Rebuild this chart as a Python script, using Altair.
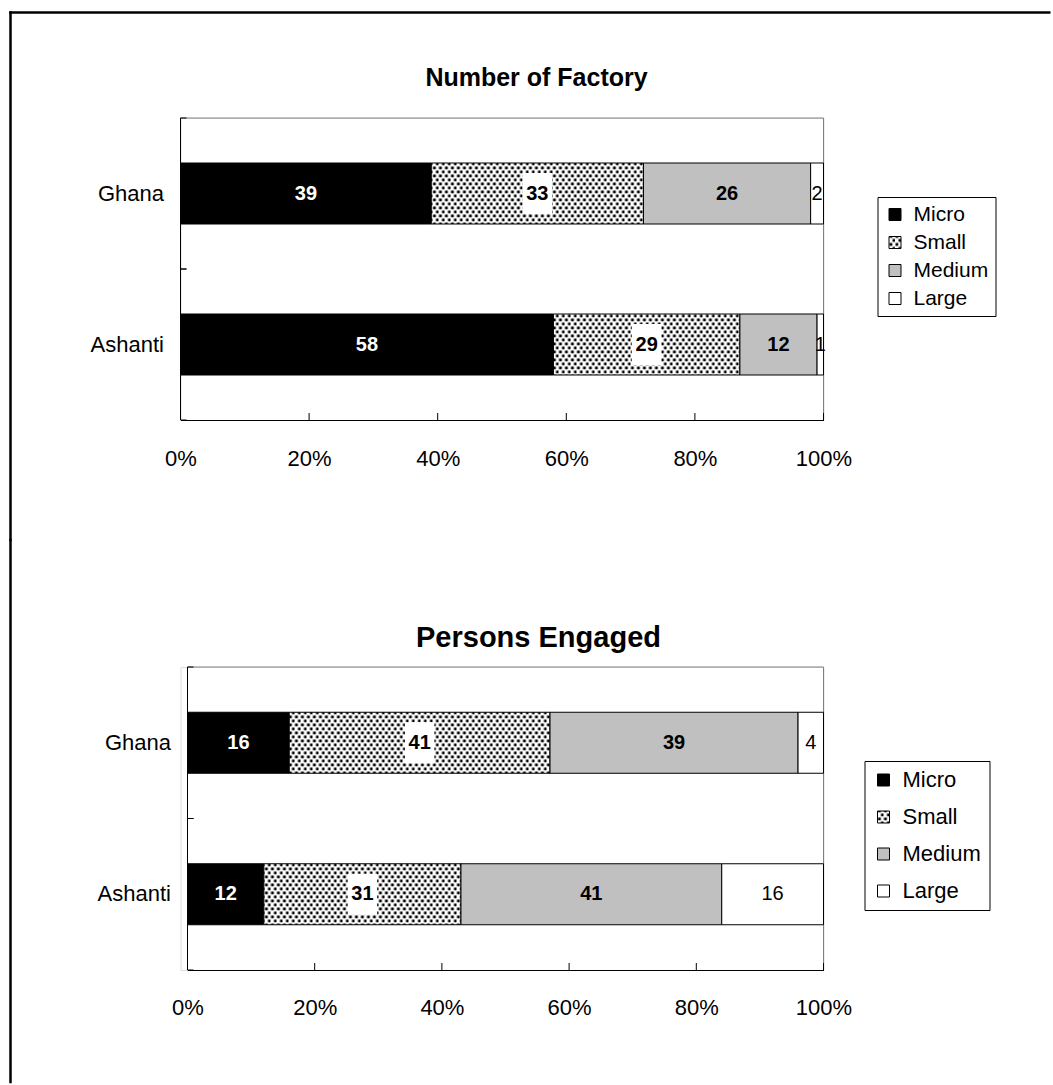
import altair as alt
import pandas as pd
import altair.utils.html as alt_html

# ---- data -------------------------------------------------------------
regions = ["Ghana", "Ashanti"]
size_classes = ["Micro", "Small", "Medium", "Large"]

factory_ghana = [39, 33, 26, 2]
factory_ashanti = [58, 29, 12, 1]

persons_ghana = [16, 41, 39, 4]
persons_ashanti = [12, 31, 41, 16]

percent_ticks = [0, 20, 40, 60, 80, 100]

# ---- styles -----------------------------------------------------------
FONT = "Liberation Sans"
class_fills = ["#000000", "url(#dots)", "#c0c0c0", "#ffffff"]

# dotted fill used for the "Small" class
PATTERN_DEFS = (
    '<svg width="0" height="0" style="position:absolute;left:0;top:0">'
    '<defs><pattern id="dots" x="0" y="0" width="6" height="8" '
    'patternUnits="userSpaceOnUse">'
    '<rect width="6" height="8" fill="#ffffff"/>'
    '<rect x="0.5" y="0.5" width="2.8" height="2.8" fill="#000000"/>'
    '<rect x="3.5" y="4.5" width="2.8" height="2.8" fill="#000000"/>'
    "</pattern></defs></svg>"
)


def _with_pattern(template):
    base_render = template.render

    def render(*args, **kwargs):
        page = base_render(*args, **kwargs)
        if "<body>" in page:
            return page.replace("<body>", "<body>\n" + PATTERN_DEFS, 1)
        return PATTERN_DEFS + page

    template.render = render


for _tpl in alt_html.TEMPLATES.values():
    _with_pattern(_tpl)


def shares(ghana, ashanti):
    rows = []
    for region, values in zip(regions, [ghana, ashanti]):
        for order, (cls, v) in enumerate(zip(size_classes, values)):
            rows.append({"region": region, "class": cls, "order": order, "share": v})
    return pd.DataFrame(rows)


WIDTH = 643
FRAME_X = -170


def panel(df, title, title_size, title_dx, title_offset, plot_left, height,
          legend_x, legend_y, row_padding, legend_font, legend_pad, x_label_pad,
          frame_top, frame_bottom, draw_top_line):
    base = alt.Chart(df).transform_stack(
        stack="share", groupby=["region"], as_=["x0", "x1"],
        sort=[alt.SortField("order", order="ascending")],
    ).transform_calculate(mid="(datum.x0 + datum.x1) / 2")

    x_scale = alt.Scale(domain=[0, 100], range=[plot_left, WIDTH], nice=False, zero=True)
    y_scale = alt.Scale(domain=regions, paddingInner=0, paddingOuter=0)

    bars = base.mark_bar(size=61, stroke="black", strokeWidth=1).encode(
        x=alt.X("x0:Q", scale=x_scale, title=None,
                axis=alt.Axis(values=percent_ticks, labelExpr="datum.value + '%'",
                              ticks=False, tickSize=0, grid=False,
                              domain=True, domainColor="black", domainWidth=1,
                              labelFontSize=22, labelColor="black", labelFont=FONT,
                              labelPadding=x_label_pad, labelFlush=False,
                              labelOverlap=False)),
        x2="x1:Q",
        y=alt.Y("region:N", sort=regions, scale=y_scale, title=None,
                axis=alt.Axis(ticks=False, tickSize=0, grid=False, domain=False,
                              labelFontSize=22, labelColor="black", labelFont=FONT,
                              labelPadding=17 - plot_left)),
        fill=alt.Fill("class:N",
                      scale=alt.Scale(domain=size_classes, range=class_fills),
                      legend=alt.Legend(title=None, orient="none",
                                        legendX=legend_x, legendY=legend_y,
                                        direction="vertical",
                                        strokeColor="black", fillColor="white",
                                        padding=legend_pad, symbolType="square",
                                        symbolSize=144, symbolStrokeColor="black",
                                        symbolStrokeWidth=1, symbolOpacity=1,
                                        labelFontSize=legend_font, labelFont=FONT,
                                        labelColor="black", labelOffset=8,
                                        rowPadding=row_padding)),
    )

    def labels(cls, color, weight):
        return base.transform_filter(alt.datum["class"] == cls).mark_text(
            font=FONT, fontSize=20, fontWeight=weight, color=color,
            align="center", baseline="middle",
        ).encode(
            x=alt.X("mid:Q", scale=x_scale, title=None),
            y=alt.Y("region:N", sort=regions, scale=y_scale, title=None),
            text=alt.Text("share:Q"),
        )

    # white backing box behind the "Small" labels
    label_box = base.transform_filter(alt.datum["class"] == "Small").mark_point(
        shape="M-0.72,-1H0.72V1H-0.72Z", size=1680, filled=True,
        fill="white", opacity=1, strokeWidth=0,
    ).encode(
        x=alt.X("mid:Q", scale=x_scale, title=None),
        y=alt.Y("region:N", sort=regions, scale=y_scale, title=None),
    )

    # plot-area border: grey on the top and right edges, black on the left
    frame_df = pd.DataFrame({"edge": ["frame"]})
    top_border = alt.Chart(frame_df).mark_rule(color="#808080", strokeWidth=1).encode(
        x=alt.X(datum=0, scale=x_scale, title=None), x2=alt.X2(datum=100),
        y=alt.value(0),
    )
    right_border = alt.Chart(frame_df).mark_rule(color="#808080", strokeWidth=1).encode(
        x=alt.X(datum=100, scale=x_scale, title=None),
        y=alt.value(0), y2=alt.value(height),
    )
    left_border = alt.Chart(frame_df).mark_rule(color="black", strokeWidth=1).encode(
        x=alt.X(datum=0, scale=x_scale, title=None),
        y=alt.value(0), y2=alt.value(height),
    )

    # inward tick marks on both axes
    region_df = pd.DataFrame({"region": regions})
    y_ticks_start = alt.Chart(region_df).mark_rule(color="black", strokeWidth=1).encode(
        y=alt.Y("region:N", sort=regions, scale=y_scale, title=None, bandPosition=0),
        x=alt.value(plot_left), x2=alt.value(plot_left + 6),
    )
    y_ticks_end = alt.Chart(region_df).mark_rule(color="black", strokeWidth=1).encode(
        y=alt.Y("region:N", sort=regions, scale=y_scale, title=None, bandPosition=1),
        x=alt.value(plot_left), x2=alt.value(plot_left + 6),
    )
    x_ticks = alt.Chart(pd.DataFrame({"tick": percent_ticks})).mark_rule(
        color="black", strokeWidth=1
    ).encode(
        x=alt.X("tick:Q", scale=x_scale, title=None),
        y=alt.value(height - 7), y2=alt.value(height),
    )

    # page frame (left edge, and top edge on the first panel)
    left_edge = alt.Chart(frame_df).mark_rule(
        color="black", strokeWidth=2.5, strokeCap="square"
    ).encode(
        x=alt.value(FRAME_X), y=alt.value(frame_top), y2=alt.value(frame_bottom),
    )
    layers = [top_border, right_border, bars, label_box,
              labels("Micro", "white", "bold"),
              labels("Small", "black", "bold"),
              labels("Medium", "black", "bold"),
              labels("Large", "black", "normal"),
              left_border, y_ticks_start, y_ticks_end, x_ticks, left_edge]
    if draw_top_line:
        top_edge = alt.Chart(frame_df).mark_rule(color="black", strokeWidth=2.5).encode(
            x=alt.value(FRAME_X - 1.25), x2=alt.value(870),
            y=alt.value(frame_top),
        )
        layers.append(top_edge)

    return alt.layer(*layers).properties(
        width=WIDTH, height=height,
        title=alt.TitleParams(title, fontSize=title_size, fontWeight="bold",
                              font=FONT, color="black", anchor="middle",
                              frame="group", dx=title_dx, offset=title_offset,
                              baseline="alphabetic"),
    )


factory = panel(shares(factory_ghana, factory_ashanti), "Number of Factory",
                title_size=25, title_dx=34.5, title_offset=-100, plot_left=0,
                height=302, legend_x=697, legend_y=79, row_padding=6,
                legend_font=21, legend_pad=7,
                x_label_pad=28, frame_top=-105.5, frame_bottom=422,
                draw_top_line=True)

persons = panel(shares(persons_ghana, persons_ashanti), "Persons Engaged",
                title_size=29, title_dx=36.5, title_offset=-138, plot_left=7,
                height=303, legend_x=684, legend_y=94, row_padding=15,
                legend_font=22, legend_pad=8,
                x_label_pad=27, frame_top=-127, frame_bottom=415,
                draw_top_line=False)

chart = alt.vconcat(factory, persons, spacing=-6).resolve_scale(
    fill="independent"
).resolve_legend(
    fill="independent"
).properties(
    padding={"left": 7.5, "top": 10, "right": 0, "bottom": 0},
    background="white",
).configure_view(
    stroke="transparent", strokeWidth=0
).configure_axisY(
    domain=False, ticks=False, grid=False
).configure(font=FONT)

chart.save("out.html", embed_options={"renderer": "svg", "actions": False})
